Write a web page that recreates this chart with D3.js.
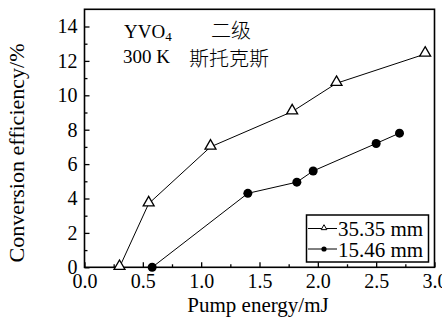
<!DOCTYPE html>
<html>
<head>
<meta charset="utf-8">
<script src="https://cdn.jsdelivr.net/npm/d3@7"></script>
<style>
  html, body { margin: 0; padding: 0; background: #fff; }
  svg text { font-family: "Liberation Serif", "Times New Roman", serif; fill: #000; }
</style>
</head>
<body>
<svg id="chart" width="442" height="321"></svg>
<script>
// Data
const seriesNames = ["35.35 mm", "15.46 mm"];
const energy3535 = [0.30, 0.55, 1.08, 1.78, 2.16, 2.92];
const eff3535    = [0.0, 3.7, 7.0, 9.05, 10.7, 12.4];
const energy1546 = [0.58, 1.40, 1.82, 1.96, 2.50, 2.70];
const eff1546    = [0.0, 4.3, 4.95, 5.6, 7.2, 7.8];
const xTicks = [0, 0.5, 1.0, 1.5, 2.0, 2.5, 3.0];
const yTicks = [0, 2, 4, 6, 8, 10, 12, 14];
const xTitle = "Pump energy/mJ";
const yTitle = "Conversion efficiency/%";

const svg = d3.select("#chart");
const L = 84.5, R = 434.5, T = 9.3, B = 267.3;
const x = d3.scaleLinear().domain([0, 3]).range([L, R]);
const y = d3.scaleLinear().domain([0, 15]).range([B, T]);

// minor ticks
const xMinor = d3.range(0.25, 3, 0.5);
const yMinor = d3.range(1, 15, 2);

// frame
svg.append("rect").attr("x", L).attr("y", T).attr("width", R - L).attr("height", B - T)
  .attr("fill", "none").attr("stroke", "#000").attr("stroke-width", 1.6);

// X axis
const gx = svg.append("g").attr("transform", `translate(0,${B})`)
  .call(d3.axisBottom(x).tickValues(xTicks).tickSize(-5).tickPadding(7).tickFormat(d3.format(".1f")));
gx.select(".domain").remove();
gx.selectAll("line").attr("stroke-width", 1.3);
gx.selectAll("text").attr("font-size", 20).attr("dy", "0.71em");
const gxm = svg.append("g").attr("transform", `translate(0,${B})`)
  .call(d3.axisBottom(x).tickValues(xMinor).tickSize(-3).tickFormat(""));
gxm.select(".domain").remove();
gxm.selectAll("line").attr("stroke-width", 1.3);

// Y axis
const gy = svg.append("g").attr("transform", `translate(${L},0)`)
  .call(d3.axisLeft(y).tickValues(yTicks).tickSize(-5).tickPadding(7));
gy.select(".domain").remove();
gy.selectAll("line").attr("stroke-width", 1.3);
gy.selectAll("text").attr("font-size", 20);
const gym = svg.append("g").attr("transform", `translate(${L},0)`)
  .call(d3.axisLeft(y).tickValues(yMinor).tickSize(-3).tickFormat(""));
gym.select(".domain").remove();
gym.selectAll("line").attr("stroke-width", 1.3);

// axis titles
svg.append("text").attr("x", 258).attr("y", 312).attr("text-anchor", "middle")
  .attr("font-size", 21).text(xTitle);
svg.append("text").attr("transform", "translate(24,153) rotate(-90)").attr("text-anchor", "middle")
  .attr("font-size", 22).text(yTitle);

// series
const s1 = energy3535.map((e, i) => [e, eff3535[i]]);
const s2 = energy1546.map((e, i) => [e, eff1546[i]]);
const line = d3.line().x(d => x(d[0])).y(d => y(d[1]));
svg.append("path").datum(s1).attr("d", line).attr("fill", "none").attr("stroke", "#000").attr("stroke-width", 1);
svg.append("path").datum(s2).attr("d", line).attr("fill", "none").attr("stroke", "#000").attr("stroke-width", 1);

const tri = d3.symbol().type(d3.symbolTriangle).size(52);
svg.selectAll(".tri").data(s1).enter().append("path")
  .attr("transform", d => `translate(${x(d[0])},${y(d[1]) - 1})`)
  .attr("d", tri).attr("fill", "#fff").attr("stroke", "#000").attr("stroke-width", 1.3);
svg.selectAll(".dot").data(s2).enter().append("circle")
  .attr("cx", d => x(d[0])).attr("cy", d => y(d[1])).attr("r", 4.5).attr("fill", "#000");

// inscription
svg.append("text").attr("x", 124).attr("y", 38).attr("font-size", 19)
  .html('YVO<tspan font-size="13" dy="3">4</tspan>');
svg.append("text").attr("x", 123).attr("y", 63).attr("font-size", 19).text("300 K");
svg.append("text").attr("x", 211).attr("y", 38).attr("font-size", 20)
  .style("font-family", '"Noto Sans CJK SC", sans-serif').attr("font-weight", 300).text("二级");
svg.append("text").attr("x", 189).attr("y", 66).attr("font-size", 20)
  .style("font-family", '"Noto Sans CJK SC", sans-serif').attr("font-weight", 300).text("斯托克斯");

// legend
const lg = svg.append("g");
lg.append("rect").attr("x", 306.5).attr("y", 215).attr("width", 122).attr("height", 47)
  .attr("fill", "#fff").attr("stroke", "#000").attr("stroke-width", 1.5);
const rows = [228.5, 249];
rows.forEach((ry, i) => {
  lg.append("line").attr("x1", 308).attr("x2", 337).attr("y1", ry).attr("y2", ry)
    .attr("stroke", "#000").attr("stroke-width", 1);
  if (i === 0) {
    lg.append("path").attr("transform", `translate(324,${ry - 0.5})`)
      .attr("d", d3.symbol().type(d3.symbolTriangle).size(14))
      .attr("fill", "#fff").attr("stroke", "#000").attr("stroke-width", 1);
  } else {
    lg.append("circle").attr("cx", 324).attr("cy", ry).attr("r", 2.6).attr("fill", "#000");
  }
  lg.append("text").attr("x", 338).attr("y", ry + 7.5).attr("font-size", 21).text(seriesNames[i]);
});
</script>
</body>
</html>
